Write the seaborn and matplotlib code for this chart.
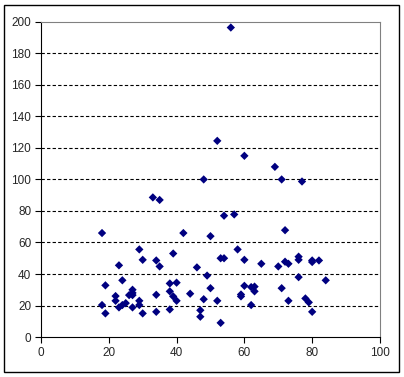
import numpy as np
import pandas as pd
import seaborn as sns
import matplotlib.pyplot as plt
from matplotlib.patches import Rectangle

x_vals = [18, 18, 19, 19, 22, 22, 23, 23, 24, 24, 25, 26, 27, 27, 27, 27,
          29, 29, 29, 30, 30, 33, 34, 34, 34, 35, 35, 38, 38, 38, 39, 39,
          40, 40, 42, 44, 46, 47, 47, 48, 48, 49, 50, 50, 52, 52, 53, 54,
          54, 53, 56, 57, 58, 59, 59, 60, 60, 60, 62, 62, 63, 63, 65, 69,
          70, 71, 71, 72, 72, 73, 73, 77, 76, 76, 76, 78, 79, 80, 80, 80,
          82, 84]
y_vals = [66, 20.3, 32.8, 15, 26, 23, 45.5, 18.8, 36, 20.3, 21.5, 26.6, 30, 28, 26.6, 18.8,
          55.6, 23, 20.3, 49, 15, 88.6, 48.6, 26.8, 16, 87, 44.8, 34, 29, 17.5, 53, 25.8,
          34.5, 23, 66, 27.5, 44.2, 17, 12.9, 100, 24, 39, 64, 31, 124.5, 23, 50, 50,
          77, 9, 196.4, 77.8, 55.6, 27, 25.8, 115, 49, 32.5, 20.3, 31.7, 32, 29, 46.5, 108,
          44.8, 100, 31, 67.8, 47.8, 46.5, 23, 98.7, 51, 49, 38, 24.5, 22, 48.6, 47.6, 16,
          48.6, 36]

df = pd.DataFrame({"x": x_vals, "y": y_vals})

sns.set_style("white")
plt.rcParams['font.family'] = ['Liberation Sans', 'DejaVu Sans']

fig = plt.figure(figsize=(4.04, 3.77), dpi=100)
ax = fig.add_axes([0.1015, 0.106, 0.839, 0.836])

sns.scatterplot(data=df, x="x", y="y", marker="D", s=18, color="#000080",
                edgecolor="none", linewidth=0, ax=ax, zorder=3)

ax.set_xlim(0, 100)
ax.set_ylim(0, 200)
ax.set_xticks(np.arange(0, 101, 20))
ax.set_yticks(np.arange(0, 201, 20))
for yv in range(20, 200, 20):
    ax.axhline(yv, color="black", linestyle=(0, (3, 2)), linewidth=0.8, zorder=1)

ax.set_xlabel("")
ax.set_ylabel("")
ax.tick_params(axis="both", direction="out", length=4, width=0.8, labelsize=8.5,
               color="black", bottom=True, left=True, pad=3)
for side in ["left", "bottom"]:
    ax.spines[side].set_color("black")
    ax.spines[side].set_linewidth(0.8)
for side in ["top", "right"]:
    ax.spines[side].set_color("#808080")
    ax.spines[side].set_linewidth(0.8)

# outer chart frame
fig.patches.append(Rectangle((4 / 404, 5 / 377), 395 / 404, 367 / 377,
                             transform=fig.transFigure, fill=False,
                             edgecolor="black", linewidth=1))

plt.savefig("out.png", dpi=100)
